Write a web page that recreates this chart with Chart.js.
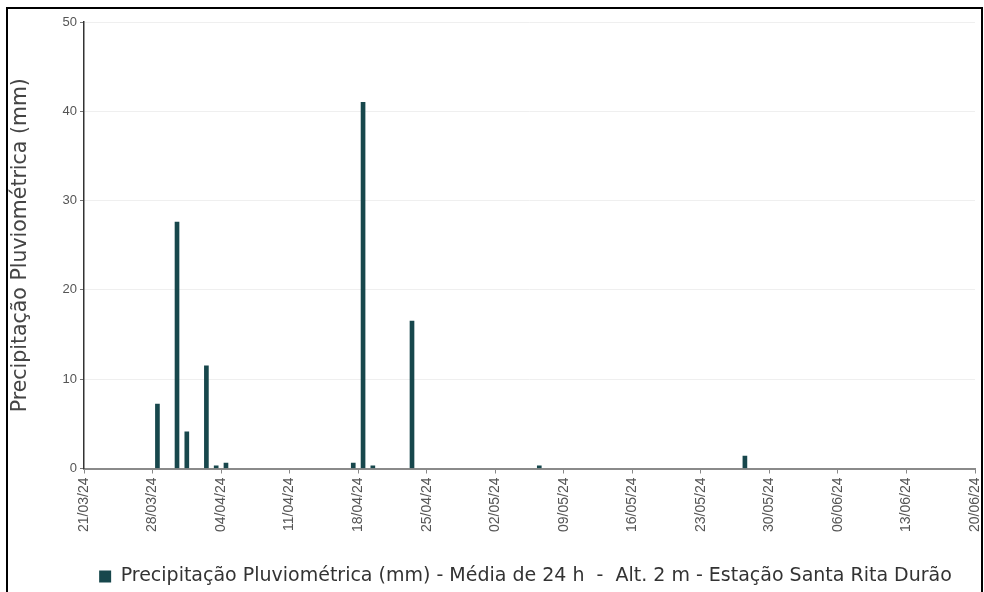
<!DOCTYPE html>
<html>
<head>
<meta charset="utf-8">
<script src="https://cdn.jsdelivr.net/npm/chart.js@4.4.1/dist/chart.umd.min.js"></script>
<style>
  html, body { margin: 0; padding: 0; background: #fff; }
  #wrap { position: relative; width: 984px; height: 592px; overflow: hidden; }
  #frame { position: absolute; left: 6px; top: 7px; width: 977px; height: 600px; border: 2px solid #000; box-sizing: border-box; pointer-events: none; }
  canvas { position: absolute; left: 0; top: 0; }
</style>
</head>
<body>
<div id="wrap">
  <canvas id="c" width="984" height="592"></canvas>
  <div id="frame"></div>
</div>
<script>
// ---- data ----
const startDate = '21/03/2024';
const rainDates = ['28/03','30/03','31/03','02/04','03/04','04/04','17/04','18/04','19/04','23/04','06/05','27/05'];
const rainValues = [7.2, 27.6, 4.1, 11.5, 0.3, 0.6, 0.6, 41.0, 0.3, 16.5, 0.3, 1.4];
const tickLabels = ['21/03/24','28/03/24','04/04/24','11/04/24','18/04/24','25/04/24','02/05/24','09/05/24','16/05/24','23/05/24','30/05/24','06/06/24','13/06/24','20/06/24'];
const yTicks = [0, 10, 20, 30, 40, 50];
const seriesLabel = 'Precipitação Pluviométrica (mm) - Média de 24 h  -  Alt. 2 m - Estação Santa Rita Durão';
const yTitle = 'Precipitação Pluviométrica (mm)';

function dayOffset(ddmm) {
  const [d, m] = ddmm.split('/').map(Number);
  const [sd, sm, sy] = startDate.split('/').map(Number);
  const t0 = Date.UTC(sy, sm - 1, sd);
  const t = Date.UTC(sy, m - 1, d);
  return Math.round((t - t0) / 86400000);
}
const points = rainDates.map((d, i) => ({ x: dayOffset(d) + 0.5, y: rainValues[i] }));
const barColor = '#17474c';

// shift the centred legend to the right, as in the reference
const legendShift = {
  id: 'legendShift',
  afterLayout(chart) {
    if (chart.legend) { chart.legend.left += 34; chart.legend.right += 34; }
  }
};

new Chart(document.getElementById('c'), {
  type: 'bar',
  data: {
    datasets: [{
      label: seriesLabel,
      data: points,
      backgroundColor: barColor,
      borderWidth: 0,
      barThickness: 4
    }]
  },
  plugins: [legendShift],
  options: {
    responsive: false,
    animation: false,
    layout: { padding: { left: 8, top: 22, right: 9, bottom: -4 } },
    plugins: {
      tooltip: { enabled: false },
      legend: {
        position: 'bottom',
        labels: {
          boxWidth: 12, boxHeight: 12, padding: 6,
          color: '#333',
          font: { family: 'DejaVu Sans', size: 19, lineHeight: 1 }
        }
      }
    },
    scales: {
      x: {
        type: 'linear',
        offset: false,
        min: 0,
        max: (tickLabels.length - 1) * 7,
        afterBuildTicks: (s) => { s.ticks = tickLabels.map((_, i) => ({ value: i * 7 })); },
        ticks: {
          autoSkip: false,
          minRotation: 90, maxRotation: 90,
          padding: 4,
          color: '#555',
          font: { family: 'Liberation Sans', size: 14 },
          callback: (v) => tickLabels[Math.round(v / 7)]
        },
        grid: { offset: false, drawOnChartArea: false, drawTicks: true, tickLength: 5, tickColor: '#888' },
        border: { display: true, color: '#8a8a8a', width: 2 },
        afterFit: (s) => { s.height = 92.5; s.paddingLeft = 0; s.paddingRight = 0; }
      },
      y: {
        min: 0, max: 50,
        afterBuildTicks: (s) => { s.ticks = yTicks.map(v => ({ value: v })); },
        ticks: {
          color: '#555',
          padding: 3,
          font: { family: 'Liberation Sans', size: 13 }
        },
        grid: { color: '#efefef', tickColor: '#777', tickLength: 4, drawTicks: true },
        border: { display: true, color: '#333', width: 1.5 },
        title: {
          display: true, text: yTitle, color: '#444', padding: 0,
          font: { family: 'DejaVu Sans', size: 20.5 }
        },
        afterFit: (s) => { s.width = 76; }
      }
    }
  }
});
</script>
</body>
</html>
